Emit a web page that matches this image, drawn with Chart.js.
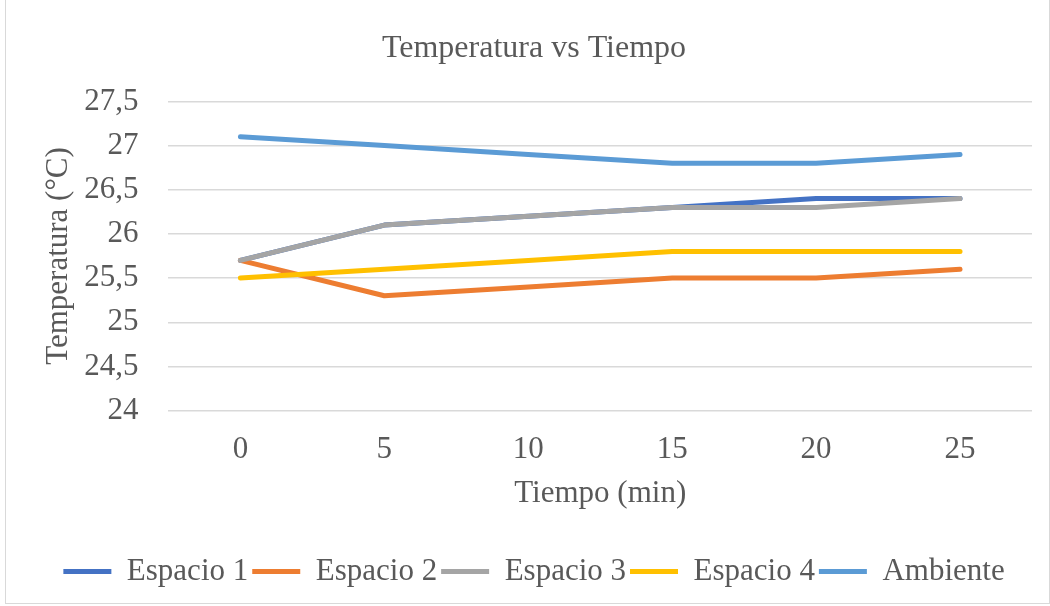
<!DOCTYPE html>
<html>
<head>
<meta charset="utf-8">
<script src="https://cdn.jsdelivr.net/npm/chart.js@4/dist/chart.umd.min.js"></script>
<style>
html,body{margin:0;padding:0;background:#fff;}
#wrap{position:relative;width:1050px;height:606px;}
#frame{position:absolute;left:5px;top:-2px;width:1045px;height:606px;border:1px solid #d9d9d9;box-sizing:border-box;pointer-events:none;}
canvas{position:absolute;left:0;top:0;}
</style>
</head>
<body>
<div id="wrap">
<canvas id="c" width="1050" height="606"></canvas>
<div id="frame"></div>
</div>
<script>
const categories = ['0','5','10','15','20','25'];
const espacio1 = [25.7, 26.1, 26.2, 26.3, 26.4, 26.4];
const espacio2 = [25.7, 25.3, 25.4, 25.5, 25.5, 25.6];
const espacio3 = [25.7, 26.1, 26.2, 26.3, 26.3, 26.4];
const espacio4 = [25.5, 25.6, 25.7, 25.8, 25.8, 25.8];
const ambiente = [27.1, 27.0, 26.9, 26.8, 26.8, 26.9];
const seriesNames = ['Espacio 1','Espacio 2','Espacio 3','Espacio 4','Ambiente'];
const yTicks = [24, 24.5, 25, 25.5, 26, 26.5, 27, 27.5];

const colors = ['#4472C4','#ED7D31','#A5A5A5','#FFC000','#5B9BD5'];
const values = [espacio1, espacio2, espacio3, espacio4, ambiente];
const FONT = "'Liberation Serif', 'Times New Roman', serif";
const TXT = '#595959';
Chart.defaults.font.family = FONT;
Chart.defaults.color = TXT;

const datasets = values.map((v, i) => ({
  label: seriesNames[i],
  data: v,
  borderColor: colors[i],
  backgroundColor: colors[i],
  borderWidth: 5,
  pointRadius: 0,
  tension: 0,
  borderCapStyle: 'round',
  borderJoinStyle: 'round',
  fill: false,
  order: 5 - i
}));

new Chart(document.getElementById('c'), {
  type: 'line',
  data: { labels: categories, datasets },
  options: {
    responsive: false,
    animation: false,
    devicePixelRatio: 1,
    layout: { padding: { left: 36, right: 18, top: 12, bottom: 9 } },
    plugins: {
      title: {
        display: true,
        text: 'Temperatura vs Tiempo',
        color: TXT,
        font: { family: FONT, size: 32, weight: 'normal' },
        padding: { top: 17, bottom: 34 }
      },
      legend: {
        position: 'bottom',
        labels: {
          color: TXT,
          font: { family: FONT, size: 31 },
          boxWidth: 48,
          boxHeight: 5,
          padding: 4,
          generateLabels: (chart) => chart.data.datasets.map((d, i) => ({
            text: d.label,
            fillStyle: d.borderColor,
            strokeStyle: d.borderColor,
            lineWidth: 0,
            fontColor: TXT,
            datasetIndex: i,
            hidden: false
          }))
        }
      },
      tooltip: { enabled: false }
    },
    scales: {
      x: {
        offset: true,
        grid: { display: false },
        border: { display: false },
        ticks: { color: TXT, font: { family: FONT, size: 31 }, padding: 13 },
        title: { display: true, text: 'Tiempo (min)', color: TXT, font: { family: FONT, size: 31 }, padding: { top: -7, bottom: 40 } }
      },
      y: {
        min: 24, max: 27.5,
        afterBuildTicks: (axis) => { axis.ticks = yTicks.map(v => ({ value: v })); },
        grid: { color: '#d9d9d9', lineWidth: 1.5, drawTicks: false },
        border: { display: false },
        ticks: {
          color: TXT, font: { family: FONT, size: 31 }, padding: 30,
          callback: (v) => String(v).replace('.', ',')
        },
        title: { display: true, text: 'Temperatura (°C)', color: TXT, font: { family: FONT, size: 31 }, padding: { top: 4, bottom: -23 } }
      }
    }
  }
});
</script>
</body>
</html>
